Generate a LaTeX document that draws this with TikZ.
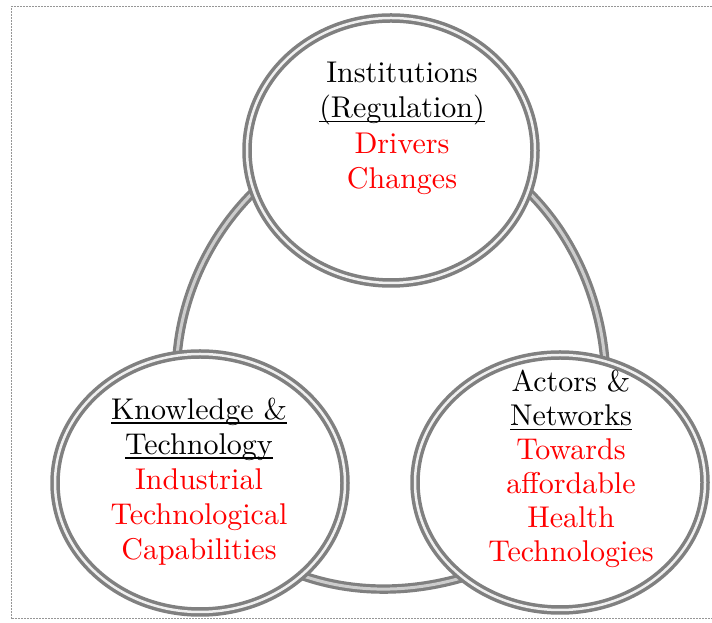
\documentclass[tikz,border=0pt]{standalone}
\usepackage{fontspec}
\setmainfont{lmroman10-regular.otf}
\usetikzlibrary{shapes.geometric,backgrounds}
\definecolor{ringgray}{RGB}{128,128,128}
\definecolor{gapgray}{RGB}{240,240,240}
\definecolor{arcgap}{RGB}{205,205,205}
\definecolor{bordergray}{RGB}{150,150,150}
\definecolor{txtred}{RGB}{255,0,0}
\newcommand{\myul}[1]{\leavevmode\setbox0=\hbox{#1}\rlap{\raisebox{-4.5pt}{\rule{\wd0}{1.4pt}}}\box0}
\tikzset{
  ring/.style={ellipse, draw=ringgray, line width=3.5pt, double=gapgray, double distance=2.5pt, fill=white, inner sep=0pt},
  link/.style={draw=ringgray, line width=3.2pt, double=arcgap, double distance=3pt},
  lbl/.style={align=center, inner sep=0pt},
  frame/.style={draw=bordergray, line width=1pt, dash pattern=on 2pt off 1pt}
}
\begin{document}
\begin{tikzpicture}[x=1pt,y=1pt]
\useasboundingbox (0,0) rectangle (712,623);
% circles
\node[ring, minimum width=288pt, minimum height=265pt] (inst) at (391,472.5) {};
\node[ring, minimum width=290pt, minimum height=258pt] (know) at (200,140) {};
\node[ring, minimum width=290pt, minimum height=255pt] (act) at (560,140.5) {};
% texts
\node[lbl, font=\fontsize{30}{35.4}\selectfont] (instT) at (402,494.5)
  {Institutions\\\myul{(Regulation)}\\\textcolor{txtred}{Drivers}\\\textcolor{txtred}{Changes}};
\node[lbl, font=\fontsize{30}{35}\selectfont] (knowT) at (199,141.5)
  {\myul{Knowledge \&}\\\myul{Technology}\\\textcolor{txtred}{Industrial}\\\textcolor{txtred}{Technological}\\\textcolor{txtred}{Capabilities}};
\node[lbl, font=\fontsize{30}{34}\selectfont] (actT) at (571,154.2)
  {Actors \&\\\myul{Networks}\\\textcolor{txtred}{Towards}\\\textcolor{txtred}{affordable}\\\textcolor{txtred}{Health}\\\textcolor{txtred}{Technologies}};
\begin{scope}[on background layer]
  \coordinate (frTR) at (712,616);
  \coordinate (frTL) at (11,616);
  \coordinate (frBL) at (11,4);
  \coordinate (frBR) at (712,4);
  \draw[frame] (frTR) -- (frTL) -- (frBL) -- (frBR);
  \draw[link] (inst.197) to[out=225,in=85,looseness=0.87] (know.100);
  \draw[link] (inst.343) to[out=315,in=95,looseness=0.87] (act.70);
  \draw[link] (know.318) to[out=341,in=196,looseness=0.87] (act.224);
\end{scope}
\end{tikzpicture}
\end{document}
